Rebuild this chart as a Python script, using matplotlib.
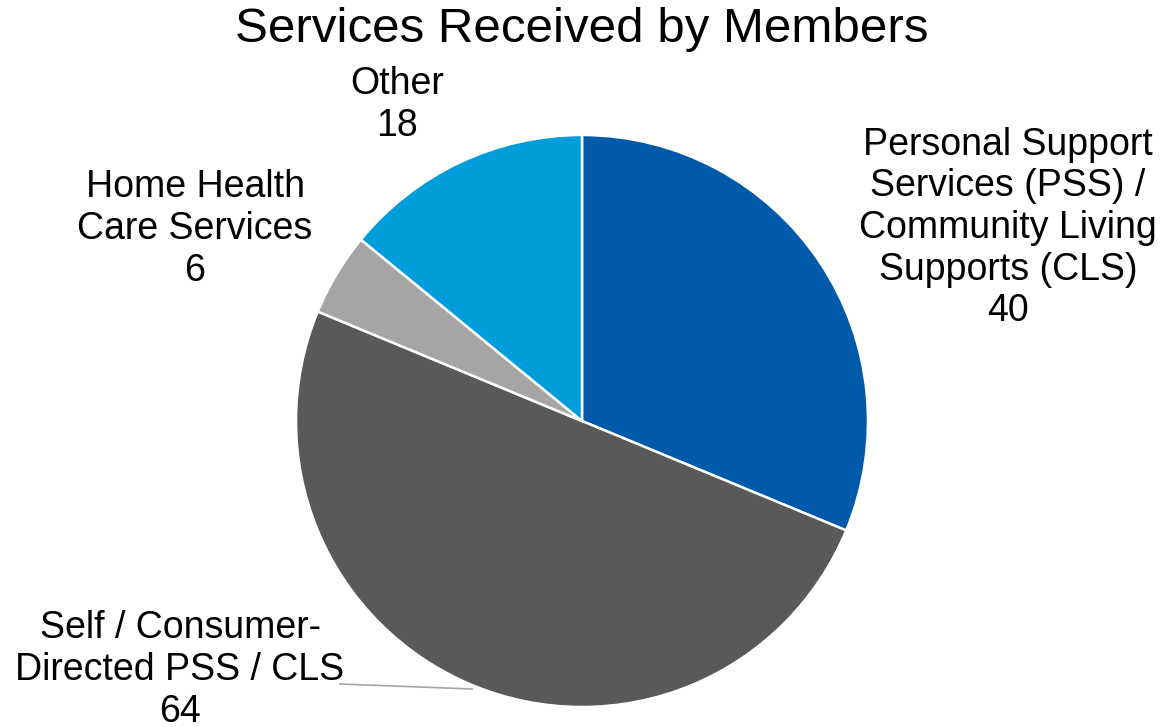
import matplotlib.pyplot as plt

plt.rcParams['font.family'] = ['Liberation Sans', 'DejaVu Sans']

categories = ['Personal Support\nServices (PSS) /\nCommunity Living\nSupports (CLS)',
              'Self / Consumer-\nDirected PSS / CLS',
              'Home Health\nCare Services',
              'Other']
values = [40, 64, 6, 18]
colors = ['#005AAA', '#595959', '#A5A5A5', '#009DDC']

W, H = 1162, 727
fig = plt.figure(figsize=(W / 100, H / 100), dpi=100)
ax = fig.add_axes([0, 0, 1, 1])

cx, cy, r = 582, H - 421, 286
ax.pie(values, colors=colors, startangle=90, counterclock=False,
       center=(cx, cy), radius=r, frame=True,
       wedgeprops=dict(edgecolor='white', linewidth=1.8))
ax.set_xlim(0, W)
ax.set_ylim(0, H)
ax.axis('off')

# label positions in pixels (x, y from top)
label_pos = [(1008, 228), (180, 670), (195, 229), (397, 105)]
for cat, val, (x, y) in zip(categories, values, label_pos):
    ax.text(x, H - y, f'{cat}\n{val}', ha='center', va='center',
            multialignment='center', fontsize=27, linespacing=1.2)

# leader line for the big slice
ax.plot([340, 472], [H - 684, H - 689], color='#A5A5A5', lw=1.2)

fig.text(582 / W, 1 - 30 / H, 'Services Received by Members',
         ha='center', va='center', fontsize=35.5)

fig.savefig('out.png', dpi=100)
